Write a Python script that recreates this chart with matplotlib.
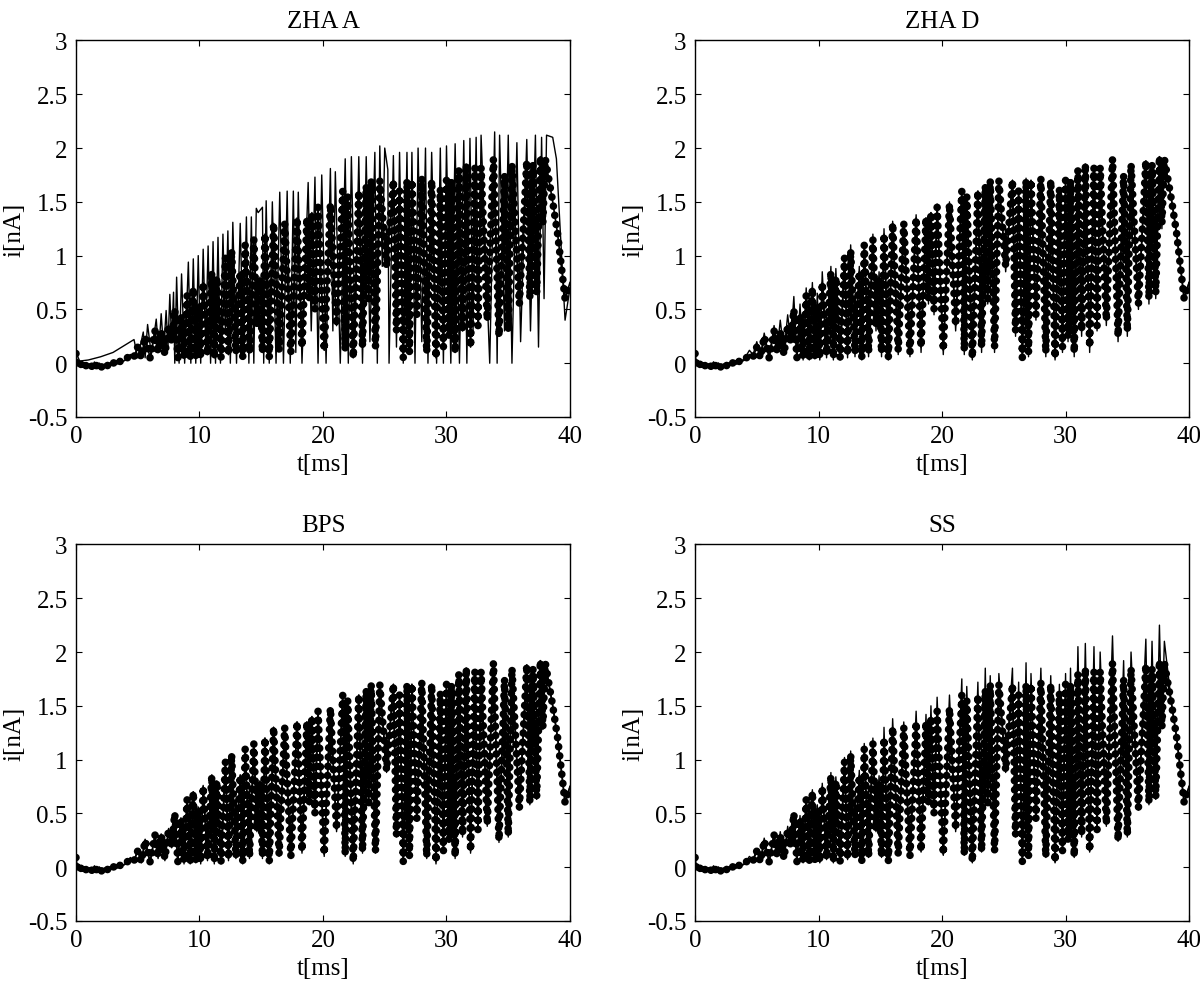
import matplotlib
matplotlib.use("Agg")
import matplotlib.pyplot as plt
from matplotlib.ticker import FuncFormatter

plt.rcParams['font.family'] = ['Liberation Serif', 'DejaVu Serif']

# measured current (dotted), same in all four panels
t_data = [0.0, 0.1, 0.3, 0.5, 0.7, 0.9, 1.1, 1.3, 1.5, 1.7,
          1.9, 2.1, 2.3, 2.5, 2.7, 2.9, 3.1, 3.3, 3.5, 3.7,
          4.0, 4.4, 4.7, 5.0, 5.3, 5.6, 6.0, 6.4, 6.65,
          6.9, 7.2, 7.5, 7.75, 8.0, 8.25, 8.5, 8.75, 9.0, 9.25,
          9.5, 9.7, 9.9, 10.1, 10.3, 10.65, 11.0, 11.2, 11.4, 11.75,
          12.1, 12.35, 12.6, 12.95, 13.3, 13.5, 13.7, 14.05, 14.4, 14.65,
          14.9, 15.1, 15.3, 15.65, 16.0, 16.45, 16.9, 17.4, 17.9, 18.3,
          18.7, 18.9, 19.1, 19.35, 19.6, 20.1, 20.6, 21.1, 21.6, 21.8,
          22.0, 22.45, 22.9, 23.2, 23.5, 23.7, 23.9, 24.25, 24.6, 25.15,
          25.7, 25.95, 26.2, 26.5, 26.8, 27.0, 27.2, 27.6, 28.0, 28.4,
          28.8, 29.15, 29.5, 29.75, 30.0, 30.2, 30.4, 30.7, 31.0, 31.3,
          31.6, 31.95, 32.3, 32.55, 32.8, 33.3, 33.8, 34.25, 34.7, 35.0,
          35.3, 35.9, 36.5, 36.75, 37.0, 37.3, 37.6, 37.8, 38.0, 38.6,
          39.0, 39.6, 40.0]
i_data = [0.09, -0.02, 0.01, -0.03, 0.0, -0.04, -0.01, -0.03, 0.01, -0.03,
          0.0, -0.04, -0.01, -0.03, 0.0, -0.02, 0.01, -0.01, 0.02, 0.01,
          0.03, 0.08, 0.06, 0.15, 0.05, 0.25, 0.05, 0.3, 0.1,
          0.3, 0.08, 0.35, 0.2, 0.5, 0.05, 0.45, 0.05, 0.63, 0.05,
          0.7, 0.06, 0.55, 0.05, 0.75, 0.08, 0.85, 0.05, 0.8, 0.05,
          0.98, 0.08, 1.05, 0.1, 0.85, 0.05, 1.1, 0.1, 1.15, 0.35,
          0.8, 0.1, 1.2, 0.05, 1.3, 0.12, 1.3, 0.1, 1.35, 0.15,
          1.35, 0.6, 1.4, 0.5, 1.45, 0.12, 1.48, 0.35, 1.6, 0.12,
          1.55, 0.05, 1.6, 0.15, 1.65, 0.6, 1.7, 0.15, 1.7, 0.9,
          1.7, 0.3, 1.6, 0.05, 1.7, 0.1, 1.7, 0.45, 1.72, 0.1,
          1.7, 0.05, 1.62, 0.15, 1.7, 0.25, 1.7, 0.1, 1.8, 0.3,
          1.85, 0.15, 1.82, 0.35, 1.82, 0.4, 1.9, 0.25, 1.75, 0.3,
          1.85, 0.55, 1.88, 0.6, 1.85, 0.65, 1.92, 1.3, 1.9, 1.5,
          1.2, 0.6, 0.75]

# model currents
t_zha_a = [0.0, 0.3, 1.0, 2.0, 3.0, 4.0, 4.7, 5.0, 5.45, 5.6,
           5.8, 6.1, 6.5, 6.7, 6.9, 7.1, 7.3, 7.45, 7.6, 7.75,
           7.9, 8.0, 8.15, 8.35, 8.55, 8.8, 9.1, 9.3, 9.5, 9.7,
           9.9, 10.1, 10.3, 10.5, 10.7, 10.9, 11.1, 11.3, 11.5, 11.7,
           11.9, 12.1, 12.3, 12.5, 12.7, 13.0, 13.3, 13.55, 13.8, 14.0,
           14.2, 14.4, 14.6, 14.75, 15.1, 15.2, 15.4, 15.65, 15.9, 16.2,
           16.5, 16.8, 17.1, 17.35, 17.6, 17.8, 18.0, 18.3, 18.8, 19.05,
           19.35, 19.6, 19.9, 20.25, 20.6, 20.8, 21.0, 21.4, 21.8, 22.05,
           22.3, 22.6, 22.9, 23.2, 23.5, 23.8, 24.2, 24.4, 24.6, 24.8,
           25.0, 25.25, 25.35, 25.7, 25.95, 26.2, 26.5, 26.8, 27.0, 27.2,
           27.45, 27.7, 28.0, 28.3, 28.5, 28.8, 29.2, 29.5, 29.75, 30.0,
           30.35, 30.7, 31.05, 31.4, 31.65, 31.9, 32.15, 32.4, 32.6, 32.8,
           33.5, 33.9, 34.1, 34.3, 34.7, 35.0, 35.3, 35.7, 36.0, 36.5,
           36.8, 37.2, 37.45, 37.7, 37.9, 38.1, 38.6, 38.9, 39.6, 40.0]
i_zha_a = [0.1, 0.02, 0.03, 0.06, 0.1, 0.17, 0.22, 0.05, 0.29, 0.05,
           0.36, 0.08, 0.41, 0.1, 0.46, 0.12, 0.49, 0.15, 0.64, 0.2,
           0.66, 0.0, 0.8, 0.0, 0.83, 0.0, 0.94, 0.0, 0.97, 0.0,
           1.0, 0.0, 1.06, 0.2, 1.09, 0.0, 1.13, 0.0, 1.17, 0.0,
           1.2, 0.3, 1.23, 0.0, 1.31, 0.0, 1.3, 0.1, 1.36, 0.0,
           1.36, 0.0, 1.44, 1.4, 1.45, 0.0, 1.51, 0.0, 1.5, 0.0,
           1.59, 0.0, 1.6, 0.0, 1.6, 0.1, 1.59, 0.0, 1.68, 0.3,
           1.73, 0.0, 1.75, 0.0, 1.81, 0.3, 1.78, 0.0, 1.9, 0.0,
           1.92, 0.25, 1.92, 0.0, 1.92, 0.2, 1.96, 0.0, 2.02, 0.9,
           2.0, 1.8, 0.0, 1.93, 0.15, 1.96, 0.0, 1.96, 0.1, 1.96,
           0.0, 2.0, 0.2, 2.0, 0.0, 1.96, 0.0, 2.0, 0.0, 2.02,
           0.0, 2.04, 0.0, 2.07, 0.0, 2.09, 0.3, 2.1, 0.35, 2.12,
           0.0, 2.15, 0.0, 2.12, 0.3, 2.12, 0.0, 2.05, 0.2, 2.08,
           0.3, 2.12, 0.15, 2.1, 0.6, 2.12, 2.1, 1.9, 0.4, 0.7]

# the other three models share the time base of the measurement
i_zha_d = [0.09, -0.02, 0.01, -0.03, 0.0, -0.04, -0.01, -0.03, 0.01, -0.03,
           0.0, -0.04, -0.01, -0.03, 0.0, -0.02, 0.01, -0.01, 0.02, 0.02,
           0.04, 0.12, 0.08, 0.2, 0.06, 0.28, 0.06, 0.35, 0.12,
           0.4, 0.1, 0.45, 0.2, 0.62, 0.03, 0.55, 0.03, 0.7, 0.03,
           0.75, 0.04, 0.65, 0.03, 0.85, 0.05, 0.9, 0.03, 0.88, 0.03,
           1.0, 0.05, 1.1, 0.06, 0.9, 0.03, 1.12, 0.06, 1.2, 0.3,
           0.85, 0.06, 1.25, 0.03, 1.32, 0.08, 1.3, 0.06, 1.38, 0.1,
           1.35, 0.55, 1.4, 0.45, 1.48, 0.08, 1.5, 0.3, 1.6, 0.08,
           1.55, 0.03, 1.6, 0.1, 1.65, 0.55, 1.7, 0.1, 1.7, 0.85,
           1.7, 0.25, 1.6, 0.03, 1.72, 0.06, 1.7, 0.4, 1.72, 0.06,
           1.7, 0.03, 1.62, 0.1, 1.7, 0.2, 1.7, 0.06, 1.8, 0.25,
           1.85, 0.1, 1.82, 0.3, 1.82, 0.35, 1.9, 0.2, 1.75, 0.25,
           1.85, 0.5, 1.88, 0.55, 1.85, 0.6, 1.92, 1.25, 1.9, 1.5,
           1.2, 0.6, 0.75]
i_bps = [0.09, -0.02, 0.01, -0.03, 0.0, -0.04, -0.01, -0.03, 0.01, -0.03,
         0.0, -0.04, -0.01, -0.03, 0.0, -0.02, 0.01, -0.01, 0.02, 0.01,
         0.03, 0.09, 0.06, 0.16, 0.04, 0.26, 0.04, 0.3, 0.08,
         0.31, 0.06, 0.36, 0.18, 0.5, 0.03, 0.46, 0.03, 0.64, 0.03,
         0.7, 0.04, 0.56, 0.03, 0.76, 0.06, 0.86, 0.03, 0.8, 0.03,
         0.98, 0.06, 1.05, 0.08, 0.86, 0.03, 1.1, 0.08, 1.15, 0.33,
         0.8, 0.08, 1.2, 0.03, 1.3, 0.1, 1.3, 0.08, 1.35, 0.13,
         1.35, 0.58, 1.4, 0.48, 1.45, 0.1, 1.48, 0.33, 1.6, 0.1,
         1.55, 0.03, 1.6, 0.13, 1.65, 0.58, 1.7, 0.13, 1.7, 0.88,
         1.7, 0.28, 1.6, 0.03, 1.7, 0.08, 1.7, 0.43, 1.72, 0.08,
         1.7, 0.03, 1.62, 0.13, 1.7, 0.23, 1.7, 0.08, 1.8, 0.28,
         1.85, 0.13, 1.82, 0.33, 1.82, 0.38, 1.9, 0.23, 1.75, 0.28,
         1.85, 0.53, 1.88, 0.58, 1.85, 0.63, 1.92, 1.28, 1.9, 1.5,
         1.2, 0.6, 0.75]
i_ss = [0.09, -0.02, 0.01, -0.03, 0.0, -0.04, -0.01, -0.03, 0.01, -0.03,
        0.0, -0.04, -0.01, -0.03, 0.0, -0.02, 0.01, -0.01, 0.02, 0.02,
        0.03, 0.1, 0.07, 0.17, 0.05, 0.27, 0.05, 0.32, 0.1,
        0.33, 0.08, 0.38, 0.2, 0.5, 0.04, 0.48, 0.04, 0.65, 0.04,
        0.72, 0.05, 0.58, 0.04, 0.78, 0.07, 0.88, 0.04, 0.84, 0.04,
        1.02, 0.07, 1.08, 0.09, 0.9, 0.04, 1.15, 0.09, 1.2, 0.33,
        0.85, 0.09, 1.3, 0.04, 1.38, 0.11, 1.35, 0.09, 1.45, 0.14,
        1.42, 0.58, 1.5, 0.48, 1.58, 0.11, 1.6, 0.33, 1.75, 0.11,
        1.68, 0.04, 1.72, 0.14, 1.85, 0.58, 1.78, 0.14, 1.8, 0.88,
        1.85, 0.28, 1.72, 0.04, 1.9, 0.09, 1.8, 0.43, 1.85, 0.09,
        1.78, 0.04, 1.7, 0.14, 1.8, 0.24, 1.85, 0.09, 2.05, 0.28,
        2.08, 0.14, 2.05, 0.33, 2.0, 0.38, 2.15, 0.24, 1.92, 0.28,
        2.0, 0.53, 2.12, 0.58, 2.1, 0.63, 2.25, 1.3, 2.1, 1.5,
        1.2, 0.6, 0.75]

titles = ['ZHA A', 'ZHA D', 'BPS', 'SS']
x_ticks = [0, 10, 20, 30, 40]
y_ticks = [-0.5, 0, 0.5, 1, 1.5, 2, 2.5, 3]

assert len(t_data) == len(i_data) == len(i_zha_d) == len(i_bps) == len(i_ss)
assert len(t_zha_a) == len(i_zha_a)

models = [(t_zha_a, i_zha_a), (t_data, i_zha_d), (t_data, i_bps), (t_data, i_ss)]

fig = plt.figure(figsize=(12, 9.95), dpi=100)
# axes boxes in figure fractions (left, bottom)
boxes = [(0.0633, 0.5799), (0.5792, 0.5799), (0.0633, 0.0734), (0.5792, 0.0734)]
fs = 18

for k in range(4):
    ax = fig.add_axes([boxes[k][0], boxes[k][1], 0.4117, 0.3784])
    # measurement: thin trace plus round dots along it
    ax.plot(t_data, i_data, color='k', lw=1.2)
    ax.plot(t_data, i_data, color='k', lw=5.5, linestyle=(0, (0.01, 1.2)),
            dash_capstyle='round')
    # model on top
    ax.plot(models[k][0], models[k][1], color='k', lw=1.0)

    ax.set_xlim(0, 40)
    ax.set_ylim(-0.5, 3)
    ax.set_xticks(x_ticks)
    ax.set_yticks(y_ticks)
    ax.yaxis.set_major_formatter(FuncFormatter(lambda v, p: '%g' % v))
    ax.tick_params(direction='in', length=4, width=0.8, top=True, right=True,
                   labelsize=fs, pad=6)
    for s in ax.spines.values():
        s.set_linewidth(1.0)
    ax.set_title(titles[k], fontsize=fs, pad=10)
    ax.set_xlabel('t[ms]', fontsize=fs, labelpad=4)
    ax.set_ylabel('i[nA]', fontsize=fs, labelpad=2)

fig.savefig('out.png', dpi=100)
